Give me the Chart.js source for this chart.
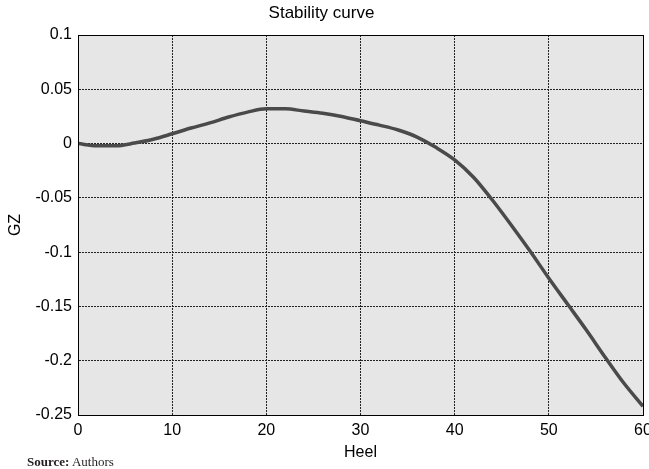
<!DOCTYPE html>
<html>
<head>
<meta charset="utf-8">
<script src="https://cdn.jsdelivr.net/npm/chart.js@4/dist/chart.umd.min.js"></script>
<style>
  body { margin: 0; background: #fff; }
  #wrap { position: relative; width: 649px; height: 469px; }
  #source {
    position: absolute; left: 27px; top: 454px;
    font-family: "Liberation Serif", serif; font-size: 13px; color: #231f20;
  }
</style>
</head>
<body>
<div id="wrap">
  <canvas id="myChart" width="649" height="469"></canvas>
  <div id="source"><b>Source:</b> Authors</div>
</div>
<script>
// Heel angle (deg) and righting arm GZ
const heel = [0, 2, 4, 6, 8, 10, 12, 14, 16, 18, 20, 22, 24, 26, 28, 30, 32, 34, 36, 38, 40, 42, 44, 46, 48, 50, 52, 54, 56, 58, 60];
const gz = [0, -0.002, -0.002, 0.0005, 0.004, 0.009, 0.0143, 0.019, 0.0245, 0.029, 0.032, 0.032, 0.030, 0.028, 0.025, 0.021, 0.017, 0.0125, 0.006, -0.0035, -0.015, -0.031, -0.052, -0.075, -0.099, -0.124, -0.148, -0.172, -0.197, -0.221, -0.242];

const xTicks = [0, 10, 20, 30, 40, 50, 60];
const yTicks = [0.1, 0.05, 0, -0.05, -0.1, -0.15, -0.2, -0.25];
const yTickLabels = ["0.1", "0.05", "0", "-0.05", "-0.1", "-0.15", "-0.2", "-0.25"];

const font = { family: "'Liberation Sans', Arial, sans-serif", size: 16 };

// fondo gris y marco negro del área de trazado
const plotBox = {
    id: "plotBox",
    beforeDraw(chart) {
        const a = chart.chartArea, ctx = chart.ctx;
        ctx.save();
        ctx.fillStyle = "#e6e6e6";
        ctx.fillRect(a.left, a.top, a.right - a.left, a.bottom - a.top);
        ctx.restore();
    },
    afterDraw(chart) {
        const a = chart.chartArea, ctx = chart.ctx;
        ctx.save();
        ctx.strokeStyle = "#000";
        ctx.lineWidth = 1;
        ctx.strokeRect(Math.round(a.left) + 0.5, Math.round(a.top) + 0.5, Math.round(a.right - a.left), Math.round(a.bottom - a.top));
        ctx.restore();
    }
};

const ctx = document.getElementById("myChart").getContext("2d");
new Chart(ctx, {
    type: "line",
    data: {
        datasets: [{
            data: heel.map((h, i) => ({ x: h, y: gz[i] })),
            borderColor: "#4a4a4a",
            borderWidth: 3.5,
            pointRadius: 0,
            cubicInterpolationMode: "monotone",
            fill: false
        }]
    },
    options: {
        responsive: false,
        animation: false,
        layout: { padding: { top: 0, right: 6, left: 0, bottom: 0 } },
        plugins: {
            legend: { display: false },
            tooltip: { enabled: false },
            title: {
                display: true,
                text: "Stability curve",
                color: "#000",
                font: { ...font, size: 17, weight: "normal" },
                padding: { top: 3, bottom: 11.6 }
            }
        },
        scales: {
            x: {
                type: "linear",
                min: 0,
                max: 60,
                afterBuildTicks: s => { s.ticks = xTicks.map(v => ({ value: v })); },
                afterFit: s => { s.height = 54; s.paddingLeft = 0; s.paddingRight = 0; },
                ticks: { color: "#000", font: font, padding: 6, maxRotation: 0 },
                grid: { color: "#222", drawTicks: false, lineWidth: 1 },
                border: { display: true, color: "#000", dash: [2, 1] },
                title: { display: true, text: "Heel", color: "#000", font: font, padding: { top: 2, bottom: 7 } }
            },
            y: {
                min: -0.25,
                max: 0.1,
                afterBuildTicks: s => { s.ticks = yTicks.map(v => ({ value: v })); },
                afterFit: s => { s.width = 78; },
                ticks: {
                    color: "#000", font: font, padding: 6,
                    callback: (v) => yTickLabels[yTicks.findIndex(t => Math.abs(t - v) < 1e-9)]
                },
                grid: { color: "#222", drawTicks: false, lineWidth: 1 },
                border: { display: true, color: "#000", dash: [2, 1] },
                title: { display: true, text: "GZ", color: "#000", font: font, padding: { top: 6, bottom: 6 } }
            }
        }
    },
    plugins: [plotBox]
});
</script>
</body>
</html>
